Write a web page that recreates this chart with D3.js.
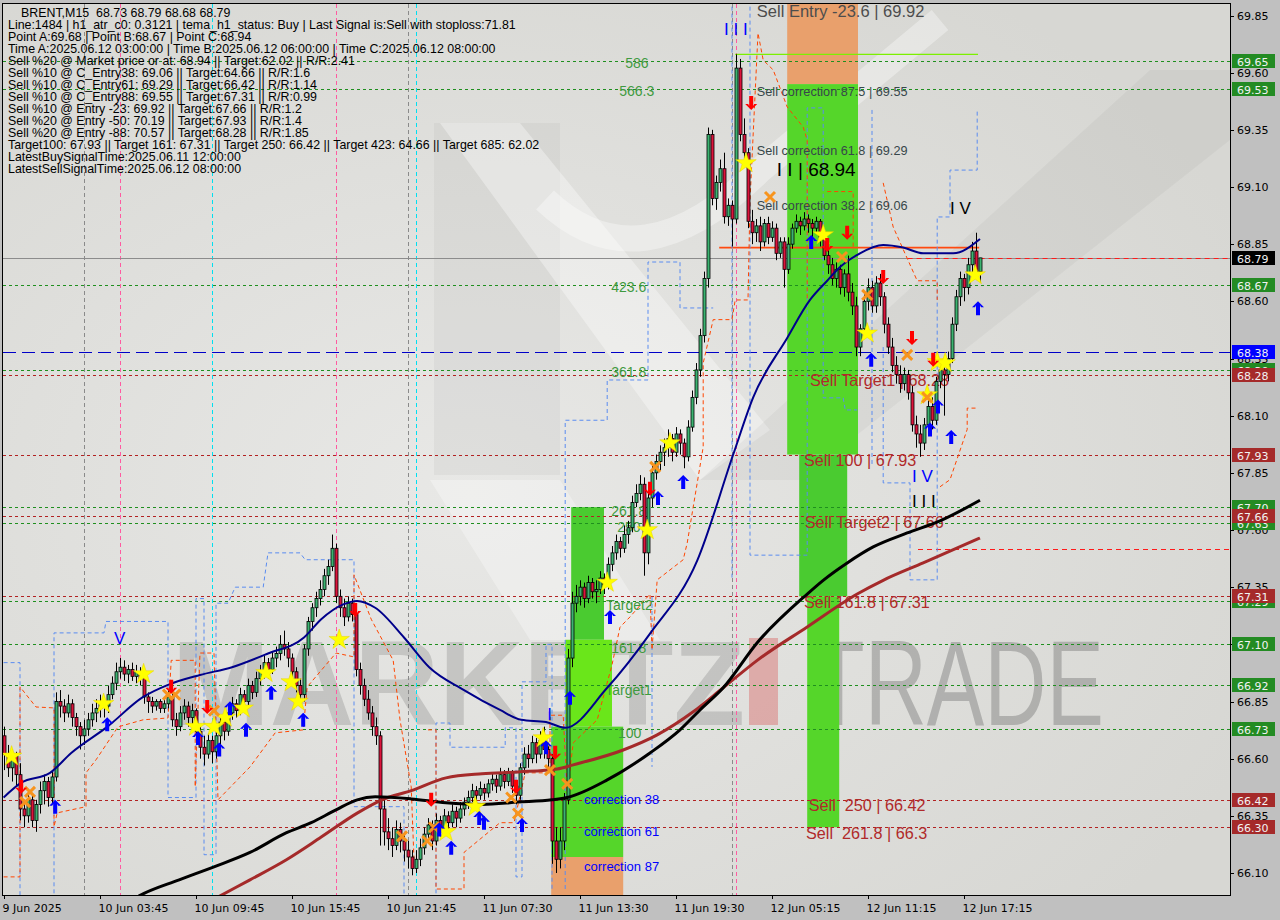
<!DOCTYPE html>
<html><head><meta charset="utf-8">
<script src="https://cdn.jsdelivr.net/npm/d3@7"></script>
<style>
html,body{margin:0;padding:0;background:#c0c0c0;}
svg{display:block;}
text{white-space:pre;}
</style></head><body>
<svg id="c" width="1280" height="920"></svg>
<script>
// ---------------- DATA ----------------
// OHLC per 15-minute bar
const ohlc = [
[66.70,66.74,66.55,66.62],[66.62,66.66,66.52,66.56],[66.56,66.64,66.50,66.61],[66.61,66.63,66.48,66.53],[66.53,66.58,66.33,66.38],
[66.38,66.42,66.30,66.35],[66.35,66.45,66.32,66.42],[66.42,66.44,66.30,66.33],[66.33,66.42,66.28,66.40],[66.40,66.50,66.36,66.46],
[66.46,66.53,66.40,66.50],[66.50,66.52,66.39,66.43],[66.43,66.55,66.40,66.52],[66.52,66.89,66.50,66.85],[66.85,66.90,66.78,66.83],
[66.83,66.86,66.76,66.80],[66.80,66.88,66.78,66.84],[66.84,66.86,66.74,66.78],[66.78,66.80,66.70,66.74],[66.74,66.76,66.64,66.70],
[66.70,66.77,66.66,66.73],[66.73,66.80,66.70,66.77],[66.77,66.84,66.74,66.80],[66.80,66.86,66.76,66.82],[66.82,66.88,66.78,66.85],
[66.85,66.87,66.78,66.83],[66.83,66.92,66.80,66.88],[66.88,66.96,66.86,66.93],[66.93,67.02,66.90,66.98],[66.98,67.04,66.95,67.00],
[67.00,67.03,66.94,66.97],[66.97,67.01,66.93,66.99],[66.99,67.02,66.94,66.96],[66.96,67.01,66.93,66.98],[66.98,67.00,66.92,66.95],
[66.95,66.97,66.84,66.87],[66.87,66.89,66.80,66.85],[66.85,66.87,66.80,66.83],[66.83,66.86,66.81,66.85],[66.85,66.86,66.80,66.82],
[66.82,66.86,66.80,66.84],[66.84,66.90,66.82,66.87],[66.87,66.91,66.74,66.77],[66.77,66.80,66.70,66.74],[66.74,66.83,66.72,66.80],
[66.80,66.86,66.77,66.83],[66.83,66.85,66.74,66.78],[66.78,66.84,66.75,66.81],[66.81,66.82,66.68,66.72],[66.72,66.75,66.60,66.65],
[66.65,66.70,66.57,66.62],[66.62,66.71,66.60,66.68],[66.68,66.70,66.58,66.63],[66.63,66.74,66.60,66.70],[66.70,66.79,66.66,66.76],
[66.76,66.78,66.68,66.72],[66.72,66.83,66.70,66.80],[66.80,66.87,66.77,66.84],[66.84,66.86,66.78,66.81],[66.81,66.91,66.79,66.88],
[66.88,66.90,66.82,66.85],[66.85,66.95,66.83,66.92],[66.92,66.94,66.86,66.89],[66.89,66.98,66.87,66.95],[66.95,67.01,66.92,66.98],
[66.98,67.05,66.95,67.02],[67.02,67.04,66.95,66.99],[66.99,67.07,66.97,67.04],[67.04,67.09,67.00,67.06],[67.06,67.14,67.03,67.10],
[67.10,67.16,67.05,67.08],[67.08,67.11,67.00,67.04],[67.04,67.06,66.95,66.98],[66.98,67.00,66.89,66.92],[66.92,66.95,66.84,66.88],
[66.88,67.10,66.85,67.08],[67.08,67.22,67.05,67.20],[67.20,67.28,67.16,67.26],[67.26,67.33,67.22,67.30],[67.30,67.38,67.27,67.34],
[67.34,67.43,67.31,67.40],[67.40,67.47,67.36,67.44],[67.44,67.58,67.42,67.52],[67.52,67.54,67.28,67.31],[67.31,67.34,67.22,67.26],
[67.26,67.30,67.18,67.22],[67.22,67.31,67.20,67.28],[67.28,67.30,67.20,67.23],[67.23,67.26,66.96,66.99],[66.99,67.02,66.88,66.92],
[66.92,66.95,66.83,66.86],[66.86,66.90,66.77,66.80],[66.80,66.83,66.70,66.74],[66.74,66.78,66.66,66.70],[66.70,66.72,66.22,66.38],
[66.38,66.42,66.22,66.28],[66.28,66.34,66.20,66.25],[66.25,66.30,66.17,66.22],[66.22,66.33,66.20,66.29],[66.29,66.32,66.19,66.24],
[66.24,66.28,66.15,66.20],[66.20,66.24,66.12,66.17],[66.17,66.20,66.09,66.12],[66.12,66.20,66.10,66.16],[66.16,66.25,66.13,66.21],
[66.21,66.30,66.18,66.27],[66.27,66.34,66.24,66.31],[66.31,66.33,66.20,66.24],[66.24,66.36,66.22,66.33],[66.33,66.35,66.26,66.29],
[66.29,66.38,66.27,66.35],[66.35,66.37,66.28,66.32],[66.32,66.40,66.30,66.37],[66.37,66.39,66.30,66.34],[66.34,66.41,66.32,66.38],
[66.38,66.43,66.35,66.41],[66.41,66.46,66.38,66.43],[66.43,66.49,66.41,66.46],[66.46,66.48,66.40,66.44],[66.44,66.50,66.42,66.47],
[66.47,66.49,66.42,66.45],[66.45,66.51,66.43,66.49],[66.49,66.54,66.46,66.51],[66.51,66.53,66.45,66.48],[66.48,66.56,66.46,66.53],
[66.53,66.55,66.47,66.50],[66.50,66.56,66.48,66.54],[66.54,66.55,66.45,66.48],[66.48,66.50,66.40,66.44],[66.44,66.58,66.42,66.56],
[66.56,66.65,66.53,66.62],[66.62,66.66,66.56,66.60],[66.60,66.70,66.58,66.67],[66.67,66.69,66.58,66.62],[66.62,66.72,66.60,66.68],
[66.68,66.74,66.60,66.64],[66.64,66.67,66.55,66.60],[66.60,66.62,66.14,66.24],[66.24,66.30,66.10,66.16],[66.16,66.30,66.12,66.24],
[66.24,66.45,66.20,66.42],[66.42,67.08,66.40,67.04],[67.04,67.33,67.00,67.28],[67.28,67.36,67.24,67.31],[67.31,67.38,67.27,67.35],
[67.35,67.37,67.26,67.30],[67.30,67.40,67.28,67.37],[67.37,67.39,67.30,67.33],[67.33,67.38,67.28,67.34],[67.34,67.42,67.32,67.39],
[67.39,67.41,67.32,67.36],[67.36,67.48,67.34,67.45],[67.45,67.53,67.42,67.50],[67.50,67.58,67.47,67.55],[67.55,67.57,67.48,67.52],
[67.52,67.62,67.50,67.58],[67.58,67.64,67.54,67.61],[67.61,67.75,67.59,67.72],[67.72,67.80,67.70,67.76],[67.76,67.84,67.73,67.80],
[67.80,67.83,67.40,67.50],[67.50,67.78,67.45,67.74],[67.74,67.88,67.70,67.85],[67.85,67.93,67.82,67.90],[67.90,67.97,67.86,67.94],
[67.94,68.00,67.88,67.96],[67.96,68.04,67.92,68.00],[68.00,68.02,67.90,67.94],[67.94,68.05,67.92,68.02],[68.02,68.04,67.93,67.98],
[67.98,68.00,67.87,67.92],[67.92,68.08,67.90,68.05],[68.05,68.21,68.03,68.18],[68.18,68.33,68.15,68.30],[68.30,68.48,68.27,68.45],
[68.45,68.73,68.42,68.70],[68.70,69.36,68.66,69.33],[69.33,69.35,69.02,69.05],[69.05,69.15,69.00,69.12],[69.12,69.22,69.08,69.18],
[69.18,69.25,68.94,68.97],[68.97,69.05,68.93,69.02],[69.02,69.04,68.84,68.96],[68.96,69.68,68.94,69.62],[69.62,69.66,69.30,69.33],
[69.33,69.40,69.22,69.25],[69.25,69.27,68.92,68.95],[68.95,69.00,68.85,68.90],[68.90,68.96,68.86,68.93],[68.93,68.97,68.82,68.86],
[68.86,68.96,68.84,68.94],[68.94,68.97,68.85,68.88],[68.88,68.95,68.86,68.92],[68.92,68.94,68.78,68.81],[68.81,68.88,68.79,68.86],
[68.86,68.88,68.66,68.74],[68.74,68.88,68.72,68.85],[68.85,68.94,68.83,68.92],[68.92,68.98,68.90,68.95],[68.95,68.97,68.89,68.93],
[68.93,68.99,68.91,68.96],[68.96,68.98,68.90,68.94],[68.94,68.96,68.88,68.92],[68.92,68.97,68.90,68.95],[68.95,68.96,68.84,68.88],
[68.88,68.91,68.78,68.80],[68.80,68.84,68.72,68.76],[68.76,68.79,68.67,68.70],[68.70,68.77,68.66,68.74],[68.74,68.76,68.63,68.66],
[68.66,68.74,68.62,68.72],[68.72,68.80,68.60,68.64],[68.64,68.68,68.54,68.58],[68.58,68.62,68.36,68.40],[68.40,68.50,68.36,68.48],
[68.48,68.63,68.46,68.60],[68.60,68.70,68.56,68.66],[68.66,68.69,68.55,68.58],[68.58,68.71,68.55,68.68],[68.68,68.72,68.58,68.62],
[68.62,68.64,68.46,68.50],[68.50,68.53,68.37,68.40],[68.40,68.44,68.29,68.32],[68.32,68.36,68.24,68.28],[68.28,68.32,68.20,68.24],
[68.24,68.31,68.21,68.28],[68.28,68.30,68.17,68.20],[68.20,68.23,68.03,68.06],[68.06,68.10,67.96,68.02],[68.02,68.06,67.92,67.98],
[67.98,68.09,67.95,68.06],[68.06,68.17,68.02,68.14],[68.14,68.18,68.04,68.08],[68.08,68.27,68.06,68.25],[68.25,68.33,68.22,68.30],
[68.30,68.34,68.10,68.28],[68.28,68.38,68.25,68.35],[68.35,68.53,68.33,68.50],[68.50,68.65,68.47,68.62],[68.62,68.73,68.58,68.70],
[68.70,68.72,68.60,68.66],[68.66,68.79,68.63,68.76],[68.76,68.86,68.72,68.82],[68.82,68.90,68.70,68.73],[68.73,68.79,68.68,68.79]
];

// moving averages as [bar, price] readings
const maBlue = [[0,66.43],[4.4,66.495],[11.6,66.538],[16.9,66.625],[25.9,66.739],[34.9,66.87],[41.1,66.923],[49.1,66.966],[57.1,67.00],[66.1,67.06],[75.1,67.13],[79.4,67.21],[84.9,67.275],[88.4,67.29],[92.9,67.26],[100.1,67.13],[106.4,67.00],[115.1,66.90],[124.1,66.813],[129.4,66.77],[135.6,66.76],[140.4,66.735],[150.9,66.91],[161.6,67.147],[173.4,67.466],[182.4,67.93],[187.4,68.18],[195.9,68.44],[201.6,68.606],[205.9,68.69],[209.1,68.75],[214.1,68.81],[219.9,68.846],[224.9,68.835],[229.9,68.81],[237.4,68.81],[244.1,68.873]];
const maBlack = [[31,65.97],[33.9,66.00],[43.9,66.07],[52.6,66.127],[61.6,66.19],[70.6,66.275],[76.9,66.32],[83.1,66.376],[88.4,66.42],[92.9,66.433],[101.9,66.424],[110.6,66.407],[119.6,66.40],[128.6,66.41],[137.1,66.42],[140.9,66.43],[150.9,66.507],[161.6,66.625],[169.1,66.726],[174.1,66.813],[179.9,66.91],[188.4,67.107],[200.9,67.32],[204.9,67.38],[210.9,67.456],[217.4,67.526],[225.9,67.587],[234.1,67.64],[244.1,67.73]];
const maBrown = [[51,65.97],[53.6,65.995],[61.6,66.07],[70.6,66.157],[79.4,66.257],[88.4,66.362],[94.6,66.42],[101.9,66.46],[110.6,66.516],[119.6,66.534],[128.6,66.542],[138.4,66.555],[142.4,66.573],[154.9,66.638],[163.4,66.704],[172.4,66.805],[179.9,66.91],[188.4,67.03],[200.9,67.176],[213.4,67.32],[219.9,67.38],[229.9,67.456],[244.1,67.565]];

// dashed channel step lines [bar, price]
const blueChannel = [
 [[0,67.02],[4.1,67.02],[4.1,65.95]],
 [[12.6,65.95],[12.6,67.15],[25.1,67.15],[25.6,67.20],[41.1,67.20],[41.1,66.43],[48.1,66.43],[48.1,67.30],[50.1,67.30],[50.1,66.18],[53.1,66.18],[53.1,67.28],[56.1,67.28],[57.9,67.35],[64.9,67.35],[66.1,67.50],[74.1,67.50],[75.4,67.47],[87.6,67.47],[87.6,66.39],[100.1,66.39],[100.1,65.95]],
 [[108.1,65.95],[108.1,66.756],[111.6,66.756],[111.6,66.65],[125.4,66.65],[125.4,66.735],[128.1,66.735],[128.1,66.083],[129.6,66.083],[129.6,66.936],[135.6,66.936],[135.6,67.10],[137.1,67.10],[137.1,66.03]],
 [[140.4,66.03],[140.4,68.08],[150.9,68.08],[150.9,68.256],[161.1,68.256],[161.1,68.772],[169.1,68.772],[169.1,68.571],[177.4,68.571]],
 [[182.1,69.95],[182.1,67.382]],
 [[186.6,69.95],[186.6,67.49],[200.9,67.49],[200.9,69.446],[204.9,69.446],[204.9,68.178],[209.9,68.178],[210.4,68.125],[213.4,68.125]],
 [[217.1,69.437],[217.1,67.876]],
 [[219.9,68.40],[219.9,67.806],[226.6,67.806],[226.6,67.382],[233.4,67.382],[233.4,68.969],[236.6,68.969],[236.6,69.174],[243.4,69.174],[243.4,69.437]],
 [[162.1,67.307],[162.1,66.564]]
];
const orangeChannel = [
 [[0,66.083],[4.1,66.083],[4.1,66.914],[8.1,66.826],[12.6,66.822],[12.6,66.302],[13.4,66.363],[20.6,66.39],[20.6,66.538],[23.1,66.595],[28.6,66.739],[34.9,66.77],[41.1,66.778],[41.9,67.03],[47.9,67.03],[47.9,66.477],[49.1,67.062],[52.6,67.062],[53.6,66.42],[61.6,66.564],[67.9,66.713],[74.9,66.726],[75.9,66.914],[83.1,67.062],[87.6,67.045],[87.6,67.404],[91.9,67.21],[97.4,67.03],[99.1,66.77],[101.9,66.477],[102.6,66.158]],
 [[106.1,66.726],[108.1,66.726],[108.1,66.03],[115.1,66.03],[115.1,66.19],[124.1,66.32],[127.6,66.32],[130.4,66.538],[136.6,66.538],[136.6,66.79],[139.9,66.79],[140.9,66.45],[142.4,66.669],[148.4,66.77],[152.1,67.01],[154.1,67.175],[156.6,67.22],[161.6,67.32],[162.1,67.076],[163.4,67.382],[169.9,67.47],[170.9,67.543],[174.9,67.963],[174.9,68.33],[177.4,68.52],[182.1,68.52],[182.9,68.606],[186.1,68.606],[186.6,69.04],[188.6,69.773],[189.9,69.655],[192.4,69.612],[195.9,69.45],[199.9,69.362],[200.9,69.306],[200.9,68.606]],
 [[205.9,69.08],[212.4,69.08],[212.4,68.825]],
 [[219.9,69.118],[222.4,68.925],[228.4,68.69],[233.4,68.69],[233.4,68.606]],
 [[234.1,67.789],[236.6,67.82],[240.9,68.04],[240.9,68.133],[243.4,68.133]]
];

// signal markers [bar, price]
const stars = [[2,66.61],[25,66.84],[35,66.97],[48,66.74],[52.6,66.74],[55.4,66.78],[59.9,66.82],[65.6,66.975],[71.9,66.935],[73.6,66.85],[83.9,67.12],[110.6,66.28],[117.9,66.39],[134.9,66.69],[150.9,67.37],[160.9,67.60],[166.6,67.98],[185.6,69.205],[204.9,68.89],[215.9,68.46],[230.9,68.19],[233.4,68.335],[235.4,68.33],[242.9,68.715]];
const crosses = [[5.4,66.41],[6.6,66.455],[41.1,66.88],[42.9,66.88],[52.6,66.81],[99.6,66.26],[105.9,66.24],[107.6,66.30],[126.9,66.43],[128.6,66.36],[136.6,66.55],[140.9,66.49],[162.9,67.876],[191.6,69.056],[209.6,68.794],[215.9,68.628],[225.9,68.366],[230.9,68.18]];
const upArrows = [[12.9,66.39],[25.9,66.75],[48.6,66.69],[53.9,66.64],[56.6,66.82],[60.6,66.726],[66.9,66.888],[74.9,66.77],[108.9,66.29],[111.9,66.21],[118.9,66.34],[120.1,66.32],[129.6,66.31],[135.6,66.65],[141.6,66.866],[151.6,67.22],[163.6,67.74],[169.9,67.81],[201.9,68.86],[216.9,68.344],[231.6,68.04],[233.6,68.14],[236.9,68.007],[243.6,68.57]];
const downArrows = [[4.4,66.477],[41.9,66.914],[50.9,66.826],[87.9,67.25],[106.9,66.42],[128.1,66.477],[137.9,66.626],[161.6,67.78],[186.9,69.467],[205.9,68.846],[210.9,68.90],[219.9,68.706],[227.1,68.44],[232.4,68.344]];

// levels
const greenLevels = [69.65,69.53,68.67,68.30,67.70,67.63,67.29,67.10,66.92,66.73];
const redLevels = [68.28,67.93,67.66,67.31,66.42,66.30];
const blueLevel = 68.38;
const lastPrice = 68.79;
const pointALine = [182.9,243.6,69.68];
const stopLine = [178.9,243.9,68.835];
const redShortLines = [[226,68.79],[228.6,67.517]];
const vLinesGray = [20,101,182];
const vLinesPink = [29,83,183];
const vLinesCyan = [52,103];

// zones [bar0, bar1, priceTop, priceBottom, kind]
const zones = [
 [195.9,213.6,69.95,69.55,'orange'],
 [195.9,213.6,69.55,67.93,'green'],
 [198.9,210.9,67.93,67.31,'green2'],
 [200.9,208.9,67.31,66.30,'green'],
 [141.9,150.1,67.70,67.12,'green2'],
 [140.4,152.1,67.12,66.74,'lime'],
 [136.9,154.9,66.74,66.17,'green'],
 [136.9,154.9,66.17,65.95,'orange']
];

// axis ticks
const yTicks = [69.85,69.60,69.35,69.10,68.85,68.60,68.35,68.10,67.85,67.60,67.35,67.10,66.85,66.60,66.35,66.10];
const xTickBars = [0,24,48,72,96,120,144,168,192,216,240];
const xTickLabels = ["9 Jun 2025","10 Jun 03:45","10 Jun 09:45","10 Jun 15:45","10 Jun 21:45","11 Jun 07:30","11 Jun 13:30","11 Jun 19:30","12 Jun 05:15","12 Jun 11:15","12 Jun 17:15"];

// right price tags [price, kind]
const priceTags = [[69.65,'g'],[69.53,'g'],[68.67,'g'],[68.30,'g'],[67.70,'g'],[67.63,'g'],[67.29,'g'],[67.10,'g'],[66.92,'g'],[66.73,'g'],
 [68.28,'r'],[67.93,'r'],[67.66,'r'],[67.31,'r'],[66.42,'r'],[66.30,'r'],[68.38,'b'],[68.79,'k']];

// info text block
const infoLines = [
"BRENT,M15  68.73 68.79 68.68 68.79",
"Line:1484 | h1_atr_c0: 0.3121 | tema_h1_status: Buy | Last Signal is:Sell with stoploss:71.81",
"Point A:69.68 | Point B:68.67 | Point C:68.94",
"Time A:2025.06.12 03:00:00 | Time B:2025.06.12 06:00:00 | Time C:2025.06.12 08:00:00",
"Sell %20 @ Market price or at: 68.94 || Target:62.02 || R/R:2.41",
"Sell %10 @ C_Entry38: 69.06 || Target:64.66 || R/R:1.6",
"Sell %10 @ C_Entry61: 69.29 || Target:66.42 || R/R:1.14",
"Sell %10 @ C_Entry88: 69.55 || Target:67.31 || R/R:0.99",
"Sell %10 @ Entry -23: 69.92 || Target:67.66 || R/R:1.2",
"Sell %20 @ Entry -50: 70.19 || Target:67.93 || R/R:1.4",
"Sell %20 @ Entry -88: 70.57 || Target:68.28 || R/R:1.85",
"Target100: 67.93 || Target 161: 67.31 || Target 250: 66.42 || Target 423: 64.66 || Target 685: 62.02",
"LatestBuySignalTime:2025.06.11 12:00:00",
"LatestSellSignalTime:2025.06.12 08:00:00"
];

// chart labels [text, bar, price(baseline), group]
const chartLabels = [
 ["Sell Entry -23.6 | 69.92",188.3,69.845,'entry'],
 ["Sell correction 87.5 | 69.55",188.3,69.50,'corr'],
 ["Sell correction 61.8 | 69.29",188.3,69.24,'corr'],
 ["Sell correction 38.2 | 69.06",188.3,69.00,'corr'],
 ["I I | 68.94",193.3,69.15,'wave'],
 ["Sell Target1 | 68.28",201.6,68.23,'sell'],
 ["Sell 100 | 67.93",200.1,67.88,'sell'],
 ["Sell Target2 | 67.66",200.3,67.61,'sell'],
 ["Sell 161.8 | 67.31",200.1,67.26,'sell'],
 ["Sell  250 | 66.42",201.3,66.37,'sell'],
 ["Sell  261.8 | 66.3",200.6,66.25,'sell'],
 ["correction 38",145.1,66.40,'blue'],
 ["correction 61",145.1,66.26,'blue'],
 ["correction 87",145.1,66.11,'blue'],
 ["586",155.4,69.62,'fib'],
 ["566.3",153.9,69.50,'fib'],
 ["423.6",151.9,68.64,'fib'],
 ["361.8",151.9,68.27,'fib'],
 ["261.8",151.9,67.66,'fib'],
 ["250",153.4,67.59,'fib'],
 ["Target2",150.6,67.25,'fib'],
 ["161.8",151.9,67.06,'fib'],
 ["Target1",150.4,66.88,'fib'],
 ["100",153.6,66.69,'fib'],
 ["I I I",180.1,69.765,'waveBlue'],
 ["I V",236.6,68.98,'waveBlack'],
 ["I V",227.1,67.81,'waveBlue'],
 ["I I I",227.1,67.70,'waveBlack'],
 ["I",135.9,66.77,'waveBlue'],
 ["V",27.6,67.10,'waveBlue']
];

// ---------------- STYLE ----------------
const labelStyle = {
 entry:{size:16.5,fill:'#4d4d4d',family:'Liberation Sans'},
 corr:{size:12.7,fill:'#37474a',family:'Liberation Sans'},
 wave:{size:19,fill:'#000',family:'Liberation Sans'},
 sell:{size:16.2,fill:'#b02a2a',family:'Liberation Sans'},
 blue:{size:13,fill:'#0000ff',family:'Liberation Sans'},
 fib:{size:14,fill:'#3f9a3f',family:'Liberation Sans'},
 waveBlue:{size:17,fill:'#0000ff',family:'Liberation Sans'},
 waveBlack:{size:17,fill:'#000',family:'Liberation Sans'}
};
const zoneColor = {orange:'#e9a06c',green:'#55d62a',green2:'#4acb30',lime:'#6ae61a'};
const tagColor = {g:'#238b23',r:'#a52a2a',b:'#0000ff',k:'#000000'};

// ---------------- DRAW ----------------
const svg = d3.select('#c');
const X0=3, X1=1230, Y0=4, Y1=895;
const x = d3.scaleLinear().domain([0,244]).range([3.6,979.6]);
const y = d3.scaleLinear().domain([66.10,69.85]).range([873,15.5]);
const defs = svg.append('defs');
defs.append('clipPath').attr('id','clip').append('rect').attr('x',X0).attr('y',Y0).attr('width',X1-X0).attr('height',Y1-Y0);
const grad = defs.append('radialGradient').attr('id','bg').attr('cx','38%').attr('cy','55%').attr('r','70%');
grad.append('stop').attr('offset','0%').attr('stop-color','#e8e8e6');
grad.append('stop').attr('offset','100%').attr('stop-color','#d7d7d3');

svg.append('rect').attr('width',1280).attr('height',920).attr('fill','#c0c0c0');
svg.append('rect').attr('x',X0).attr('y',Y0).attr('width',X1-X0).attr('height',Y1-Y0).attr('fill','url(#bg)');

const g = svg.append('g').attr('clip-path','url(#clip)');

// watermark logo (decorative)
const wm = g.append('g');
wm.append('path').attr('d','M434,123 L560,123 L560,475 L434,475 Z').attr('fill','rgba(0,0,0,0.035)');
wm.append('path').attr('d','M440,123 L520,123 L770,430 L700,480 Z').attr('fill','rgba(255,255,255,0.35)');
wm.append('path').attr('d','M700,480 L1150,70 L1230,70 L1230,140 L800,480 Z').attr('fill','rgba(0,0,0,0.035)');
wm.append('path').attr('d','M545,200 Q640,290 760,170 L940,20').attr('fill','none').attr('stroke','rgba(255,255,255,0.35)').attr('stroke-width',26);
wm.append('path').attr('d','M430,480 L560,480 L660,640 L530,640 Z').attr('fill','rgba(255,255,255,0.3)');
// watermark text
wm.append('text').attr('x',172).attr('y',725).text('MARKETZ')
  .attr('font-family','Liberation Sans').attr('font-weight','bold').attr('font-size',121)
  .attr('textLength',573).attr('lengthAdjust','spacingAndGlyphs').attr('fill','rgba(120,120,120,0.28)');
wm.append('rect').attr('x',749).attr('y',638).attr('width',29).attr('height',87).attr('fill','rgba(215,60,60,0.32)');
wm.append('text').attr('x',812).attr('y',725).text('TRADE')
  .attr('font-family','Liberation Sans').attr('font-size',121)
  .attr('textLength',292).attr('lengthAdjust','spacingAndGlyphs').attr('fill','rgba(110,110,110,0.4)');

// zones
g.selectAll('rect.zone').data(zones).enter().append('rect').attr('class','zone')
 .attr('x',d=>x(d[0])).attr('width',d=>x(d[1])-x(d[0]))
 .attr('y',d=>y(d[2])).attr('height',d=>y(d[3])-y(d[2]))
 .attr('fill',d=>zoneColor[d[4]]);

// vertical dashed lines
function vline(list,color){
 g.selectAll(null).data(list).enter().append('line')
  .attr('x1',d=>Math.round(x(d))+0.5).attr('x2',d=>Math.round(x(d))+0.5).attr('y1',Y0).attr('y2',Y1)
  .attr('stroke',color).attr('stroke-width',1).attr('stroke-dasharray','4,3');
}
vline(vLinesGray,'#8a8a8a'); vline(vLinesPink,'#ff5aa0'); vline(vLinesCyan,'#00e0f0');

// horizontal levels
function hline(list,color,dash){
 g.selectAll(null).data(list).enter().append('line')
  .attr('x1',X0).attr('x2',X1).attr('y1',d=>Math.round(y(d))+0.5).attr('y2',d=>Math.round(y(d))+0.5)
  .attr('stroke',color).attr('stroke-width',1).attr('stroke-dasharray',dash);
}
hline(greenLevels,'#1f8f1f','3,3');
hline(redLevels,'#b22222','3,3');
hline([blueLevel],'#0000c8','13,6');
hline([lastPrice],'#8c8c8c','none');
g.selectAll(null).data(redShortLines).enter().append('line')
 .attr('x1',d=>x(d[0])).attr('x2',X1).attr('y1',d=>Math.round(y(d[1]))+0.5).attr('y2',d=>Math.round(y(d[1]))+0.5)
 .attr('stroke','#ff1a1a').attr('stroke-width',1).attr('stroke-dasharray','5,4');
g.append('line').attr('x1',x(pointALine[0])).attr('x2',x(pointALine[1])).attr('y1',y(pointALine[2])).attr('y2',y(pointALine[2]))
 .attr('stroke','#7cf000').attr('stroke-width',1.2);
g.append('line').attr('x1',x(stopLine[0])).attr('x2',x(stopLine[1])).attr('y1',y(stopLine[2])).attr('y2',y(stopLine[2]))
 .attr('stroke','#ff4a10').attr('stroke-width',1.6);

// dashed channels
const ln = d3.line().x(d=>x(d[0])).y(d=>y(d[1]));
g.selectAll(null).data(blueChannel).enter().append('path').attr('d',ln)
 .attr('fill','none').attr('stroke','#5a8cf0').attr('stroke-width',1).attr('stroke-dasharray','4,3');
g.selectAll(null).data(orangeChannel).enter().append('path').attr('d',ln)
 .attr('fill','none').attr('stroke','#ff4500').attr('stroke-width',1).attr('stroke-dasharray','4,3');

// chart labels
g.selectAll(null).data(chartLabels).enter().append('text')
 .attr('x',d=>x(d[1])).attr('y',d=>y(d[2])).text(d=>d[0])
 .attr('font-family',d=>labelStyle[d[3]].family).attr('font-size',d=>labelStyle[d[3]].size)
 .attr('fill',d=>labelStyle[d[3]].fill);

// candles
const cg = g.append('g');
cg.selectAll('line.wick').data(ohlc).enter().append('line')
 .attr('x1',(d,i)=>Math.round(x(i))+0.5).attr('x2',(d,i)=>Math.round(x(i))+0.5)
 .attr('y1',d=>y(d[1])).attr('y2',d=>y(d[2])).attr('stroke','#000').attr('stroke-width',1);
cg.selectAll('rect.body').data(ohlc).enter().append('rect')
 .attr('x',(d,i)=>Math.round(x(i))-1).attr('width',3)
 .attr('y',d=>y(Math.max(d[0],d[3]))).attr('height',d=>Math.max(1,Math.abs(y(d[0])-y(d[3]))))
 .attr('fill',d=>d[3]>=d[0]?'#3cb371':'#dc143c').attr('stroke','#000').attr('stroke-width',0.8);

// moving averages
const cl = d3.line().x(d=>x(d[0])).y(d=>y(d[1])).curve(d3.curveMonotoneX);
g.append('path').datum(maBrown).attr('d',cl).attr('fill','none').attr('stroke','#a52a2a').attr('stroke-width',3);
g.append('path').datum(maBlack).attr('d',cl).attr('fill','none').attr('stroke','#000').attr('stroke-width',3);
g.append('path').datum(maBlue).attr('d',cl).attr('fill','none').attr('stroke','#00008b').attr('stroke-width',2);

// markers
const star = d3.symbol().type(d3.symbolStar).size(130);
g.selectAll(null).data(stars).enter().append('path').attr('d',star)
 .attr('transform',d=>`translate(${x(d[0])},${y(d[1])})`).attr('fill','#ffff00').attr('stroke','#e6d200').attr('stroke-width',0.5);
g.selectAll(null).data(crosses).enter().append('path')
 .attr('d',d=>{const cx=x(d[0]),cy=y(d[1]);return `M${cx-5},${cy-5}L${cx+5},${cy+5}M${cx+5},${cy-5}L${cx-5},${cy+5}`;})
 .attr('stroke','#f7941d').attr('stroke-width',3).attr('fill','none');
function arrowPath(cx,cy,dir){
 const s=dir;
 return `M${cx},${cy-7*s}L${cx+6},${cy-1*s}L${cx+3},${cy-1*s}L${cx+2},${cy-3*s}L${cx+2},${cy+7*s}L${cx-2},${cy+7*s}L${cx-2},${cy-3*s}L${cx-3},${cy-1*s}L${cx-6},${cy-1*s}Z`;
}
g.selectAll(null).data(upArrows).enter().append('path')
 .attr('d',d=>arrowPath(x(d[0]),y(d[1]),1)).attr('fill','#0000ff');
g.selectAll(null).data(downArrows).enter().append('path')
 .attr('d',d=>arrowPath(x(d[0]),y(d[1]),-1)).attr('fill','#ff0000');

// info text
svg.append('g').selectAll('text').data(infoLines).enter().append('text')
 .attr('x',(d,i)=>i===0?21:8).attr('y',(d,i)=>17+12*i).text(d=>d)
 .attr('font-family','Liberation Sans').attr('font-size',12.4).attr('fill','#000');

// frame
svg.append('rect').attr('x',X0-0.5).attr('y',Y0-0.5).attr('width',X1-X0+1).attr('height',Y1-Y0+1)
 .attr('fill','none').attr('stroke','#000').attr('stroke-width',1);

// right axis
const ya = svg.append('g');
ya.selectAll('line').data(yTicks).enter().append('line')
 .attr('x1',X1).attr('x2',X1+4).attr('y1',d=>Math.round(y(d))+0.5).attr('y2',d=>Math.round(y(d))+0.5).attr('stroke','#000');
ya.selectAll('text').data(yTicks).enter().append('text')
 .attr('x',X1+7).attr('y',d=>y(d)+4).text(d=>d.toFixed(2))
 .attr('font-family','DejaVu Sans').attr('font-size',11).attr('fill','#000');

// price tags (green first, then red, blue, black on top)
const tg = svg.append('g');
const tagsSorted = priceTags.slice().sort((a,b)=>'grbk'.indexOf(a[1])-'grbk'.indexOf(b[1]));
tagsSorted.forEach(d=>{
 tg.append('rect').attr('x',X1+2).attr('width',43).attr('y',Math.round(y(d[0]))-7).attr('height',14).attr('fill',tagColor[d[1]]);
 tg.append('text').attr('x',X1+7).attr('y',Math.round(y(d[0]))+4.5).text(d[0].toFixed(2))
  .attr('font-family','DejaVu Sans').attr('font-size',11).attr('fill','#f2f2f2');
});

// bottom axis
const xa = svg.append('g');
xa.selectAll('line').data(xTickBars).enter().append('line')
 .attr('x1',d=>Math.round(x(d))+0.5).attr('x2',d=>Math.round(x(d))+0.5).attr('y1',Y1).attr('y2',Y1+4).attr('stroke','#000');
xa.selectAll('text').data(xTickBars).enter().append('text')
 .attr('x',d=>x(d)-1).attr('y',912).text((d,i)=>xTickLabels[i])
 .attr('font-family','DejaVu Sans').attr('font-size',11).attr('fill','#000');
</script>
</body></html>
